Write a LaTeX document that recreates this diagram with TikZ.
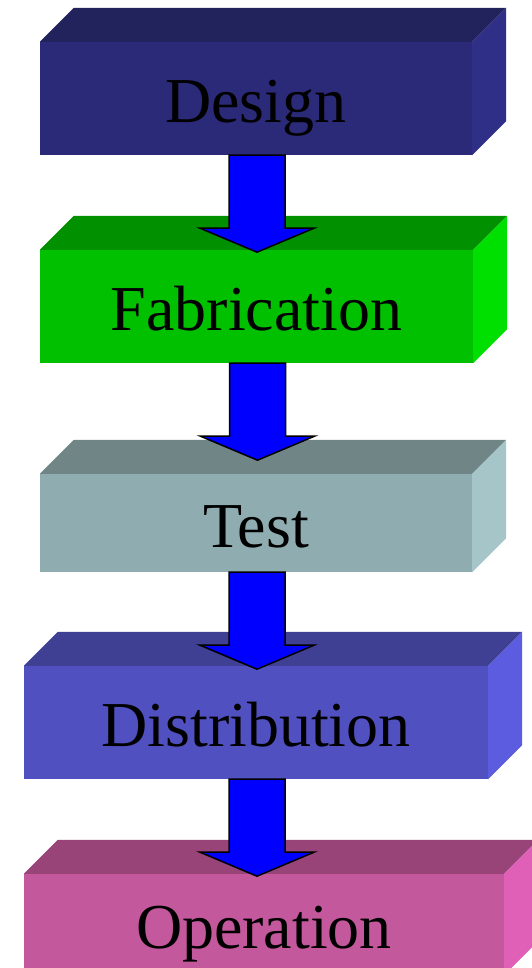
\documentclass[tikz,border=0pt]{standalone}
\usepackage{fontspec}
\setmainfont{Liberation Serif}

% face colours: front, top, side
\definecolor{designfront}{HTML}{2A2A78}
\definecolor{designtop}{HTML}{22225C}
\definecolor{designside}{HTML}{2F2F88}
\definecolor{fabfront}{HTML}{00C000}
\definecolor{fabtop}{HTML}{009000}
\definecolor{fabside}{HTML}{00E000}
\definecolor{testfront}{HTML}{8FADB0}
\definecolor{testtop}{HTML}{708686}
\definecolor{testside}{HTML}{A6C5C9}
\definecolor{distfront}{HTML}{5050C0}
\definecolor{disttop}{HTML}{3F3F93}
\definecolor{distside}{HTML}{5C5CE0}
\definecolor{opfront}{HTML}{C4589C}
\definecolor{optop}{HTML}{984478}
\definecolor{opside}{HTML}{E060B8}

\begin{document}
\begin{tikzpicture}[x=1pt,y=-1pt,
    stage/.style={rectangle, fill=#1, inner sep=0pt, minimum width=432pt, minimum height=113pt,
      font=\fontsize{64}{70}\selectfont, text height=48pt, text depth=0pt},
    flowarrow/.style={fill=blue, draw=black, line width=1.5pt, line join=miter}]

  % Frame
  \clip (0,0) rectangle (532,968);

  % Front faces
  \node[stage=designfront] (design) at (256,98.5) {Design};
  \node[stage=fabfront, minimum width=433pt] (fabrication) at (256.5,306.5) {Fabrication};
  \node[stage=testfront, minimum height=98pt] (test) at (256,523) {Test};
  \node[stage=distfront, minimum width=464pt] (distribution) at (256,722.5) {Distribution};
  \node[stage=opfront, minimum width=480pt, minimum height=101pt] (operation) at (264,924.5) {Operation};

  % Top and side faces
  \foreach \n/\tc/\sc in {design/designtop/designside, fabrication/fabtop/fabside,
      test/testtop/testside, distribution/disttop/distside, operation/optop/opside} {
    \fill[\tc] (\n.north west) -- ([shift={(34pt,34pt)}]\n.north west)
      -- ([shift={(34pt,34pt)}]\n.north east) -- (\n.north east) -- cycle;
    \fill[\sc] (\n.north east) -- ([shift={(34pt,34pt)}]\n.north east)
      -- ([shift={(34pt,34pt)}]\n.south east) -- (\n.south east) -- cycle;
  }

  % Arrows
  \foreach \a in {design,fabrication,test,distribution} {
    \draw[flowarrow] ([xshift=-27pt]\a.south) -- ++(0,73) -- ++(-29,0) -- ++(57,24)
      -- ++(57,-24) -- ++(-29,0) -- ++(0,-73) -- cycle;
  }
\end{tikzpicture}
\end{document}
